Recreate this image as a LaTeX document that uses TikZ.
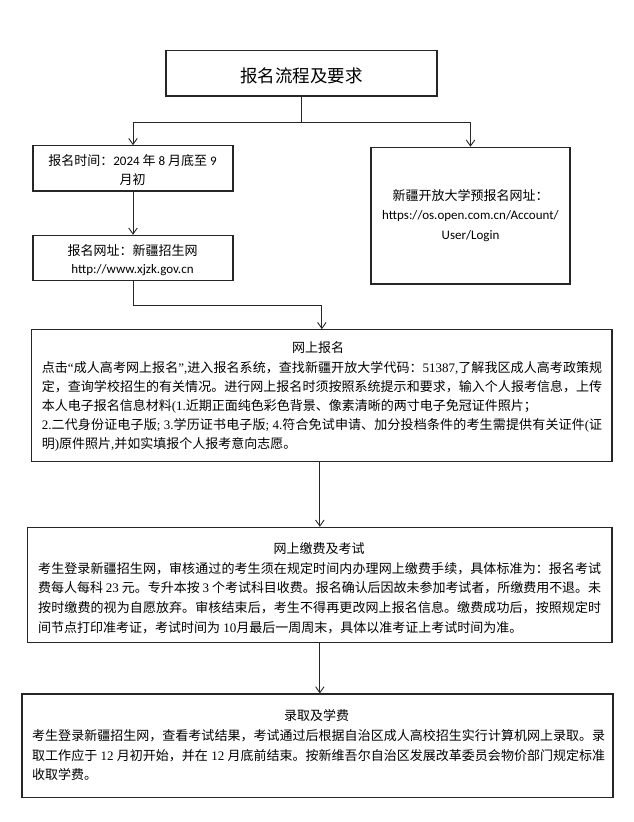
\documentclass[tikz,border=0pt]{standalone}
\usepackage{fontspec}
\setmainfont{Noto Sans CJK SC}
\newfontfamily\tnrfont{Liberation Serif}
\newfontfamily\calfont{Carlito}
\newcommand\romtext[1]{{\tnrfont #1}}
\newcommand\caltext[1]{{\calfont #1}}
\usetikzlibrary{arrows.meta}
\XeTeXlinebreaklocale "zh"
\XeTeXlinebreakskip=0pt plus 1.5pt minus 0.12pt
\hbadness=10000
\tikzset{
  box/.style={draw=black!85, line width=1.1pt, inner sep=0pt},
  conn/.style={draw=black!85, line width=0.9pt},
  arr/.style={conn, -{Straight Barb[length=6pt,width=8.5pt]}},
  line/.style={inner sep=0pt, anchor=base, font=\fontsize{13pt}{16pt}\selectfont},
  bodytxt/.style={inner sep=0pt, anchor=base west, font=\fontsize{13pt}{16pt}\selectfont},
}
\begin{document}
\begin{tikzpicture}[x=1pt,y=-1pt]
\useasboundingbox (0,0) rectangle (633,822);
\fill[white] (0,0) rectangle (633,822);

% boxes
\node[box, minimum width=271pt, minimum height=45.3pt] (title) at (301.5,73.35) {};
\node[box, minimum width=200pt, minimum height=45.3pt] (b1) at (133,168.35) {};
\node[box, minimum width=200pt, minimum height=45.4pt] (b2) at (133,258) {};
\node[box, minimum width=199pt, minimum height=136.7pt] (r) at (470.5,215.65) {};
\node[box, minimum width=580.3pt, minimum height=132pt] (b3) at (321.85,395.7) {};
\node[box, minimum width=584.3pt, minimum height=115.4pt] (b4) at (319.85,585) {};
\node[box, minimum width=591pt, minimum height=103.7pt] (b5) at (317.5,745.85) {};

% title text
\node[line, font=\fontsize{17.5pt}{20pt}\selectfont] (ttext) at (301.5,82) {报名流程及要求};

% left boxes
\node[line] (b1l1) at (132.5,165.5) {报名时间：\caltext{2024~}年\caltext{~8~}月底至\caltext{~9}};
\node[line] (b1l2) at (132.5,184) {月初};
\node[line] (b2l1) at (132.5,255.5) {报名网址：新疆招生网};
\node[line] (b2l2) at (132.5,273.8) {\caltext{http://www.xjzk.gov.cn}};

% right box
\node[line] (rl1) at (470.5,200.5) {新疆开放大学预报名网址：};
\node[line] (rl2) at (470.5,219.8) {\caltext{https://os.open.com.cn/Account/}};
\node[line] (rl3) at (470.5,239.6) {\caltext{User/Login}};

% box 3
\node[line] (b3t) at (318,352.5) {网上报名};
\node[bodytxt] (b3b) at (41.7,372) {\parbox[t]{560.3pt}{\fontsize{13pt}{19.2pt}\selectfont\parindent=0pt
点击\romtext{“}成人高考网上报名\romtext{”,}进入报名系统，查找新疆开放大学代码：\romtext{51387,}了解我区成人高考政策规\linebreak
定，查询学校招生的有关情况。进行网上报名时须按照系统提示和要求，输入个人报考信息，上传\linebreak
本人电子报名信息材料\romtext{(1.}近期正面纯色彩色背景、像素清晰的两寸电子免冠证件照片；\newline
\romtext{2.}二代身份证电子版\romtext{;~3.}学历证书电子版\romtext{;~4.}符合免试申请、加分投档条件的考生需提供有关证件\romtext{(}证\linebreak
明\romtext{)}原件照片\romtext{,}并如实填报个人报考意向志愿。}};

% box 4
\node[line] (b4t) at (319,553.5) {网上缴费及考试};
\node[bodytxt] (b4b) at (38,573) {\parbox[t]{563pt}{\fontsize{13pt}{19.8pt}\selectfont\parindent=0pt
考生登录新疆招生网，审核通过的考生须在规定时间内办理网上缴费手续，具体标准为：报名考试\linebreak
费每人每科\romtext{~23~}元。专升本按\romtext{~3~}个考试科目收费。报名确认后因故未参加考试者，所缴费用不退。未\linebreak
按时缴费的视为自愿放弃。审核结束后，考生不得再更改网上报名信息。缴费成功后，按照规定时\linebreak
间节点打印准考证，考试时间为\romtext{~10}月最后一周周末，具体以准考证上考试时间为准。}};

% box 5
\node[line] (b5t) at (316.5,720.5) {录取及学费};
\node[bodytxt] (b5b) at (32,740.5) {\parbox[t]{573pt}{\fontsize{13pt}{19.5pt}\selectfont\parindent=0pt
考生登录新疆招生网，查看考试结果，考试通过后根据自治区成人高校招生实行计算机网上录取。录\linebreak
取工作应于\romtext{~12~}月初开始，并在\romtext{~12~}月底前结束。按新维吾尔自治区发展改革委员会物价部门规定标准\linebreak
收取学费。}};

% connectors
\coordinate (split) at (301.5,122);
\coordinate (join) at (133,305.3);
\draw[conn] (title.south) -- (split);
\draw[arr] (split) -| (b1.north);
\draw[arr] (split) -| (r.north);
\draw[arr] (b1.south) -- (b2.north);
\draw[arr] (b2.south) -- (join) -| (b3.north);
\draw[arr] (b4.north |- b3.south) -- (b4.north);
\draw[arr] (b4.south) -- (b4.south |- b5.north);
\end{tikzpicture}
\end{document}
